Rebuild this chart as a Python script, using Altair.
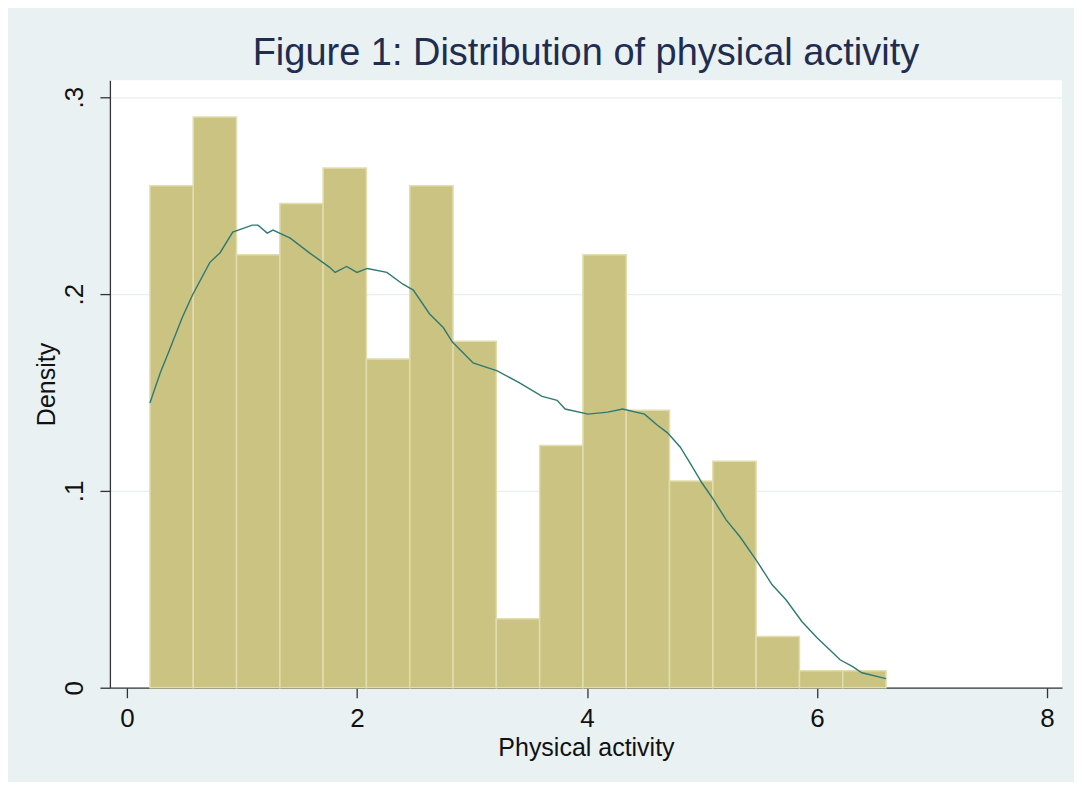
import altair as alt
import pandas as pd

# Histogram definition (Stata-style: 17 equal bins from min to max)
bin_min = 0.2
bin_max = 6.6
n_bins = 17
density = [0.255, 0.290, 0.220, 0.246, 0.264, 0.167, 0.255, 0.176, 0.035,
           0.123, 0.220, 0.141, 0.105, 0.115, 0.026, 0.0086, 0.0086]

# Kernel density estimate
kde_x = [0.20, 0.29, 0.37, 0.48, 0.57, 0.72, 0.81, 0.92, 1.09, 1.14, 1.22, 1.27,
         1.42, 1.59, 1.76, 1.81, 1.91, 2.00, 2.09, 2.26, 2.40, 2.49, 2.63, 2.75,
         2.83, 3.01, 3.22, 3.41, 3.61, 3.74, 3.81, 4.01, 4.18, 4.31, 4.50, 4.61,
         4.70, 4.81, 4.89, 5.00, 5.09, 5.21, 5.33, 5.47, 5.61, 5.73, 5.87, 6.00,
         6.11, 6.20, 6.31, 6.39, 6.60]
kde_y = [0.1447, 0.160, 0.1716, 0.188, 0.1995, 0.216, 0.221, 0.2315, 0.235, 0.235, 0.231, 0.2325,
         0.2284, 0.2208, 0.2137, 0.211, 0.214, 0.211, 0.213, 0.211, 0.205, 0.202, 0.190, 0.183,
         0.1756, 0.165, 0.161, 0.155, 0.148, 0.146, 0.1416, 0.139, 0.140, 0.1416, 0.139, 0.1335,
         0.1295, 0.1223, 0.1147, 0.104, 0.0964, 0.0853, 0.0767, 0.065, 0.0523, 0.0447, 0.0335, 0.0254,
         0.0193, 0.0142, 0.0107, 0.0076, 0.0046]

x_ticks = [0, 2, 4, 6, 8]
y_ticks = [0, 0.1, 0.2, 0.3]

width_bin = (bin_max - bin_min) / n_bins
bars_df = pd.DataFrame({
    "lo": [bin_min + i * width_bin for i in range(n_bins)],
    "hi": [bin_min + (i + 1) * width_bin for i in range(n_bins)],
    "density": density,
})
kde_df = pd.DataFrame({"x": kde_x, "y": kde_y})

FONT = "Liberation Sans"
x_scale = alt.Scale(domain=[-0.148, 8.13], nice=False, zero=False)
y_scale = alt.Scale(domain=[0, 0.3086], nice=False, zero=False)

x_axis = alt.Axis(
    values=x_ticks, title="Physical activity", grid=False, format="d",
    tickSize=10, tickColor="#333333", tickWidth=1.3,
    domainColor="#333333", domainWidth=1.3,
    labelFontSize=26, labelColor="#111111", labelFont=FONT, labelPadding=8,
    titleFontSize=25, titleColor="#111111", titleFont=FONT, titleFontWeight="normal",
    titlePadding=4, labelFlush=False,
)
y_axis = alt.Axis(
    values=y_ticks, title="Density", grid=True, gridColor="#E6EFF1", gridWidth=1.3,
    labelExpr="datum.value == 0 ? '0' : replace(format(datum.value, '.1f'), '0.', '.')",
    tickSize=10, tickColor="#333333", tickWidth=1.3,
    domainColor="#333333", domainWidth=1.3,
    labelFontSize=26, labelColor="#111111", labelFont=FONT, labelAngle=270,
    labelAlign="center", labelBaseline="bottom", labelPadding=12,
    titleFontSize=25, titleColor="#111111", titleFont=FONT, titleFontWeight="normal",
    titlePadding=2, labelFlush=False,
)

bars = alt.Chart(bars_df).mark_rect(
    color="#CBC382", stroke="#E2DDAE", strokeWidth=1.5
).encode(
    x=alt.X("lo:Q", scale=x_scale, axis=x_axis),
    x2="hi:Q",
    y=alt.Y("density:Q", scale=y_scale, axis=y_axis),
    y2=alt.datum(0),
)

kde = alt.Chart(kde_df).mark_line(
    color="#2E7A72", strokeWidth=1.4, interpolate="linear"
).encode(
    x=alt.X("x:Q", scale=x_scale),
    y=alt.Y("y:Q", scale=y_scale),
)

chart = alt.layer(bars, kde).properties(
    width=953, height=608,
    title=alt.Title(
        "Figure 1: Distribution of physical activity",
        fontSize=38, font=FONT, fontWeight="normal", color="#1F2D50",
        anchor="middle", baseline="alphabetic", offset=-23,
    ),
    autosize=alt.AutoSizeParams(type="none"),
    padding={"left": 102, "top": 72, "right": 12, "bottom": 94},
    background="#EAF1F3",
).configure_view(
    fill="white", stroke=None
)

chart.save("out.html", embed_options={"renderer": "svg", "actions": False})
